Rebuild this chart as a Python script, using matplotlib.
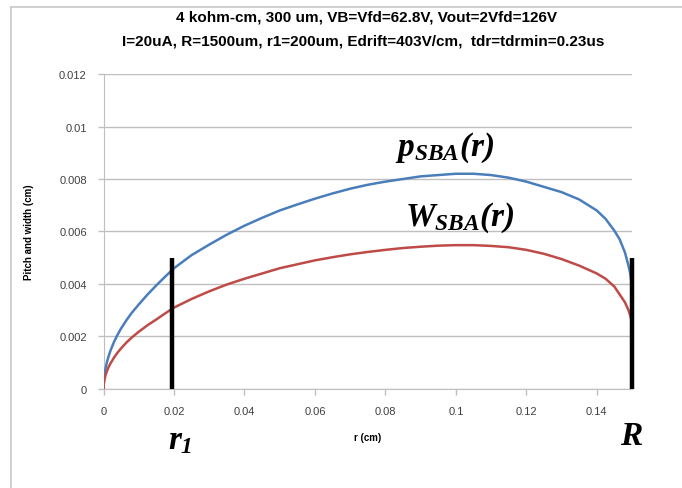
import matplotlib.pyplot as plt
from matplotlib.lines import Line2D

# data
r = [0, 0.0001, 0.0003, 0.0006, 0.001, 0.0015, 0.002, 0.003, 0.004, 0.005, 0.0065,
     0.008, 0.01, 0.0125, 0.015, 0.0175, 0.02, 0.025, 0.03, 0.035, 0.04, 0.045, 0.05,
     0.055, 0.06, 0.065, 0.07, 0.075, 0.08, 0.085, 0.09, 0.095, 0.1, 0.105, 0.11,
     0.115, 0.12, 0.125, 0.13, 0.135, 0.14, 0.1425, 0.145, 0.1465, 0.148, 0.149,
     0.1495, 0.15]
pitch = [0, 0.00033, 0.00057, 0.0008, 0.00104, 0.00127, 0.00147, 0.0018, 0.00207,
         0.00231, 0.00262, 0.0029, 0.00322, 0.0036, 0.00395, 0.00428, 0.0046, 0.0051,
         0.0055, 0.00588, 0.00622, 0.00652, 0.0068, 0.00703, 0.00725, 0.00745,
         0.00763, 0.00778, 0.0079, 0.008, 0.0081, 0.00815, 0.0082, 0.0082, 0.00815,
         0.00805, 0.0079, 0.0077, 0.0075, 0.00722, 0.0068, 0.00648, 0.00603, 0.0057,
         0.0052, 0.0047, 0.0044, 0.0039]
width = [0, 0.00022, 0.00038, 0.00054, 0.00069, 0.00085, 0.00098, 0.0012, 0.00139,
         0.00155, 0.00177, 0.00196, 0.00218, 0.00243, 0.00265, 0.00288, 0.0031,
         0.00343, 0.00372, 0.00398, 0.0042, 0.0044, 0.0046, 0.00475, 0.0049, 0.00502,
         0.00513, 0.00522, 0.0053, 0.00537, 0.00542, 0.00546, 0.00548, 0.00548,
         0.00545, 0.0054, 0.0053, 0.00515, 0.00495, 0.0047, 0.0044, 0.0042, 0.0039,
         0.0036, 0.0033, 0.003, 0.0028, 0.00255]
bar_r = [0.0195, 0.15]
bar_top = 0.005
xticks = [0, 0.02, 0.04, 0.06, 0.08, 0.1, 0.12, 0.14]
xtick_labels = ['0', '0.02', '0.04', '0.06', '0.08', '0.1', '0.12', '0.14']
yticks = [0, 0.002, 0.004, 0.006, 0.008, 0.01, 0.012]
ytick_labels = ['0', '0.002', '0.004', '0.006', '0.008', '0.01', '0.012']

plt.rcParams['mathtext.fontset'] = 'custom'
plt.rcParams['mathtext.it'] = 'Liberation Serif:italic:bold'
plt.rcParams['mathtext.rm'] = 'Liberation Serif:italic:bold'
plt.rcParams['mathtext.bf'] = 'Liberation Serif:italic:bold'

fig = plt.figure(figsize=(6.82, 4.89), dpi=100)
ax = fig.add_axes([0.1518, 0.2025, 0.7749, 0.6441])

# outer frame (left and top only visible)
fig.add_artist(Line2D([11 / 682, 11 / 682], [0, 1 - 8 / 489], color='#c8c8c8', lw=1.2,
                      transform=fig.transFigure))
fig.add_artist(Line2D([11 / 682, 1], [1 - 8 / 489, 1 - 8 / 489], color='#c8c8c8', lw=1.2,
                      transform=fig.transFigure))

ax.plot(r, pitch, color='#4a7ebb', lw=1.8, zorder=3)
ax.plot(r, width, color='#be4b48', lw=1.8, zorder=3)
for b in bar_r:
    ax.plot([b, b], [0, bar_top], color='black', lw=3.2, solid_capstyle='butt',
            zorder=4, clip_on=False)

ax.set_xlim(0, 0.15)
ax.set_ylim(0, 0.012)
ax.set_xticks(xticks)
ax.set_xticklabels(xtick_labels)
ax.set_yticks(yticks)
ax.set_yticklabels(ytick_labels)
ax.tick_params(colors='#bfbfbf', labelcolor='#404040', labelsize=8, length=4, width=1, pad=8)
for lab in ax.get_xticklabels() + ax.get_yticklabels():
    lab.set_family('Liberation Sans')
ax.grid(axis='y', color='#bfbfbf', lw=1)
ax.set_axisbelow(True)
for s in ['top', 'right']:
    ax.spines[s].set_visible(False)
for s in ['left', 'bottom']:
    ax.spines[s].set_color('#bfbfbf')

ax.set_xlabel('r (cm)', fontsize=7, fontweight='bold', family='Liberation Sans', labelpad=12)
ax.set_ylabel('Pitch and width (cm)', fontsize=7, fontweight='bold', family='Liberation Sans',
              labelpad=18)

fig.text(366 / 682, 1 - 18 / 489, '4 kohm-cm, 300 um, VB=Vfd=62.8V, Vout=2Vfd=126V',
         ha='center', va='center', fontsize=11, fontweight='bold', family='Liberation Sans')
fig.text(363 / 682, 1 - 42 / 489,
         'I=20uA, R=1500um, r1=200um, Edrift=403V/cm,  tdr=tdrmin=0.23us',
         ha='center', va='center', fontsize=11, fontweight='bold', family='Liberation Sans')

fig.text(445 / 682, 1 - 148 / 489, r'$p_{SBA}(r)$', ha='center', va='center', fontsize=24)
fig.text(460 / 682, 1 - 218 / 489, r'$W_{SBA}(r)$', ha='center', va='center', fontsize=24)
fig.text(180 / 682, 1 - 440 / 489, r'$r_1$', ha='center', va='center', fontsize=24)
fig.text(632 / 682, 1 - 436 / 489, r'$R$', ha='center', va='center', fontsize=24)

fig.savefig('out.png', dpi=100)
